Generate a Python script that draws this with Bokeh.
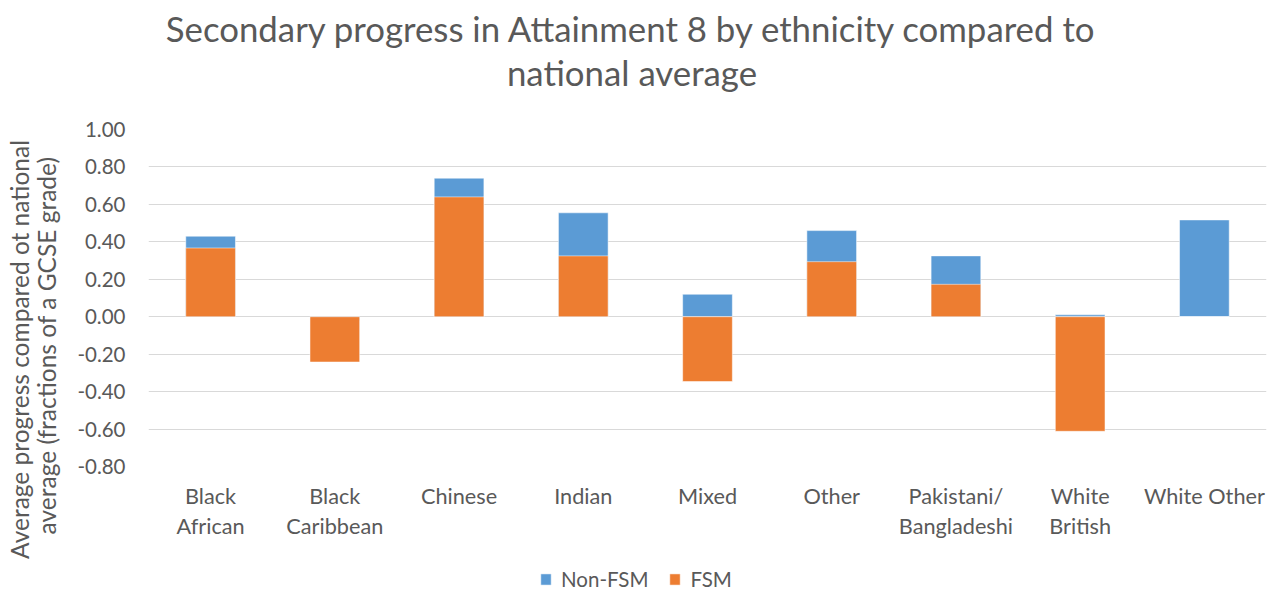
import math
from bokeh.plotting import figure
from bokeh.layouts import column, row
from bokeh.models import (ColumnDataSource, FactorRange, Range1d, FixedTicker,
                          NumeralTickFormatter, Legend, LegendItem, Label, CategoricalAxis,
                          CustomJSTickFormatter)
from bokeh.embed import file_html
from bokeh.resources import INLINE

# ---- data ----
categories = ["Black African", "Black Caribbean", "Chinese", "Indian", "Mixed",
              "Other", "Pakistani/Bangladeshi", "White British", "White Other"]
label_line1 = ["Black", "Black", "Chinese", "Indian", "Mixed",
               "Other", "Pakistani/", "White", "White Other"]
label_line2 = ["African", "Caribbean", "", "", "",
               "", "Bangladeshi", "British", ""]
non_fsm = [0.43, -0.02, 0.74, 0.555, 0.12, 0.46, 0.325, 0.01, 0.517]
fsm = [0.367, -0.242, 0.64, 0.325, -0.346, 0.294, 0.173, -0.612, 0.0]
y_ticks = [-0.8, -0.6, -0.4, -0.2, 0.0, 0.2, 0.4, 0.6, 0.8, 1.0]
title_lines = ["Secondary progress in Attainment 8 by ethnicity compared to",
               "national average"]
ylabel_lines = ["Average progress compared ot national",
                "average (fractions of a GCSE grade)"]
series_names = ["Non-FSM", "FSM"]

FONT = "Lato"
TXT = "#595959"
BLUE = "#5B9BD5"
ORANGE = "#ED7D31"

src = ColumnDataSource(dict(cat=categories, non_fsm=non_fsm, fsm=fsm))


def blank(width, height, **kw):
    f = figure(width=width, height=height, output_backend="svg", toolbar_location=None,
               x_axis_type=None, y_axis_type=None, min_border=0, **kw)
    f.title = None
    f.outline_line_color = None
    f.grid.visible = False
    f.background_fill_color = "white"
    f.border_fill_color = "white"
    return f


# ---- title strip (page y 0..100) ----
tf = blank(1279, 100, x_range=Range1d(0, 1279), y_range=Range1d(0, 100))
for txt, y in zip(title_lines, [72, 28]):
    tf.add_layout(Label(x=631.5, y=y, text=txt, text_align="center",
                        text_baseline="alphabetic", text_font=FONT,
                        text_font_size="34.8px", text_color=TXT))

# ---- y-axis title strip (page x 0..70, y 100..590) ----
yf = blank(70, 490, x_range=Range1d(0, 70), y_range=Range1d(0, 490))
for txt, x, y in zip(ylabel_lines, [19, 46], [241, 245]):
    yf.add_layout(Label(x=x, y=y, text=txt, angle=math.pi / 2, text_align="center",
                        text_baseline="alphabetic", text_font=FONT,
                        text_font_size="24.5px", text_color=TXT))

# ---- main chart (page x 70..1279, y 100..544) ----
p = figure(width=1209, height=444, output_backend="svg", toolbar_location=None,
           x_range=FactorRange(*categories, range_padding=0),
           y_range=Range1d(-0.8, 1.0),
           min_border_left=78, min_border_right=13,
           min_border_top=29, min_border_bottom=78)
p.title = None
p.outline_line_color = None
p.background_fill_color = "white"
p.border_fill_color = "white"

bar_kw = dict(x="cat", bottom=0, width=0.4, source=src,
              line_color="white", line_alpha=0.5, line_width=1)
r1 = p.vbar(top="non_fsm", fill_color=BLUE, **bar_kw)
r2 = p.vbar(top="fsm", fill_color=ORANGE, **bar_kw)

p.xgrid.grid_line_color = None
p.ygrid.grid_line_color = "#d9d9d9"
p.ygrid.grid_line_width = 1.2


def style_axis(ax, size):
    ax.axis_line_color = None
    ax.major_tick_line_color = None
    ax.minor_tick_line_color = None
    ax.major_label_text_font = FONT
    ax.major_label_text_color = TXT
    ax.major_label_text_font_size = size


p.yaxis.ticker = FixedTicker(ticks=y_ticks)
p.yaxis.formatter = NumeralTickFormatter(format="0.00")
style_axis(p.yaxis[0], "20.5px")
p.yaxis.major_label_standoff = 17

JS = "return m.get ? (m.get(tick) ?? '') : (m[tick] ?? '')"
style_axis(p.xaxis[0], "21.7px")
p.xaxis.major_label_standoff = 10
p.xaxis.formatter = CustomJSTickFormatter(args=dict(m=dict(zip(categories, label_line1))), code=JS)

ax2 = CategoricalAxis(formatter=CustomJSTickFormatter(
    args=dict(m=dict(zip(categories, label_line2))), code=JS))
style_axis(ax2, "21.7px")
ax2.major_label_standoff = -5
p.add_layout(ax2, "below")

# ---- legend strip (page x 70..1279, y 544..590) ----
lf = blank(1209, 46, x_range=FactorRange(*categories), y_range=Range1d(0, 1))
l1 = lf.vbar(top="non_fsm", fill_color=BLUE, visible=False, **bar_kw)
l2 = lf.vbar(top="fsm", fill_color=ORANGE, visible=False, **bar_kw)
legend = Legend(items=[LegendItem(label=series_names[0], renderers=[l1]),
                       LegendItem(label=series_names[1], renderers=[l2])],
                orientation="horizontal", location=(391, -1),
                glyph_width=13, glyph_height=14, label_height=14,
                label_standoff=9, spacing=20, padding=0, margin=0,
                border_line_color=None, background_fill_alpha=0,
                label_text_font=FONT, label_text_font_size="20.5px",
                label_text_color=TXT)
lf.add_layout(legend, "center")

layout = column(tf, row(yf, column(p, lf)))
open("out.html", "w").write(file_html(layout, INLINE))
